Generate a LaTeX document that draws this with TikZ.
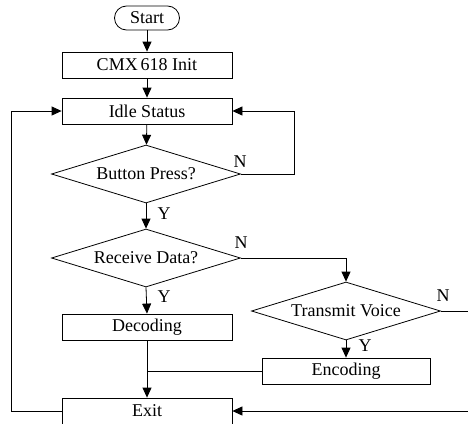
\documentclass[tikz,border=0pt]{standalone}
\usepackage{fontspec}
\setmainfont{Liberation Serif}
\usetikzlibrary{shapes.geometric,arrows.meta}

\begin{document}
\begin{tikzpicture}[x=1pt,y=-1pt,line width=0.8pt,
	every node/.style={font=\fontsize{18}{20}\selectfont},
	box/.style={draw,minimum width=170pt,minimum height=26pt,inner sep=0pt},
	test/.style={draw,diamond,aspect=3.3,minimum width=189pt,minimum height=58pt,inner sep=0pt},
	flow/.style={-{Triangle[width=9pt,length=10pt]}}]
	\useasboundingbox (0,0) rectangle (468,423);
	\node[draw,rounded corners=12pt,minimum width=65pt,minimum height=24pt,inner sep=0pt] (start) at (147,18) {Start};
	\node[box] (init) at (147,65) {CMX\,618 Init};
	\node[box] (idle) at (147,111) {Idle Status};
	\node[test] (button) at (146,174) {Button Press?};
	\node[test] (receive) at (146,258) {Receive Data?};
	\node[box] (decode) at (147,327) {Decoding};
	\node[test] (transmit) at (346,311) {Transmit Voice};
	\node[box,minimum width=168pt] (encode) at (346,371) {Encoding};
	\node[box] (exit) at (147,411) {Exit};

	\draw[flow] (start) -- (init);
	\draw[flow] (init) -- (idle);
	\draw[flow] (idle) -- (button);
	\draw[flow] (button.east) -- ++(53,0) |- (idle.east);
	\draw[flow] (button.south) -- (receive.north);
	\draw[flow] (receive.east) -| (transmit.north);
	\draw[flow] (receive.south) -- (decode.north);
	\draw[flow] (transmit.south) -- (encode.north);
	\draw[flow] (decode.south) -- (exit.north);
	\draw (encode.west) -- (encode.west -| decode.south);
	\draw[flow] (transmit.east) -- ++(34,0) |- (exit.east);
	\draw[flow] (exit.west) -- ++(-50,0) |- (idle.west);

	\node (no1) at (240,162) {N};
	\node (yes1) at (164,214) {Y};
	\node (no2) at (241,243) {N};
	\node (yes2) at (164,297) {Y};
	\node (no3) at (443,296) {N};
	\node (yes3) at (365,346) {Y};
\end{tikzpicture}
\end{document}
